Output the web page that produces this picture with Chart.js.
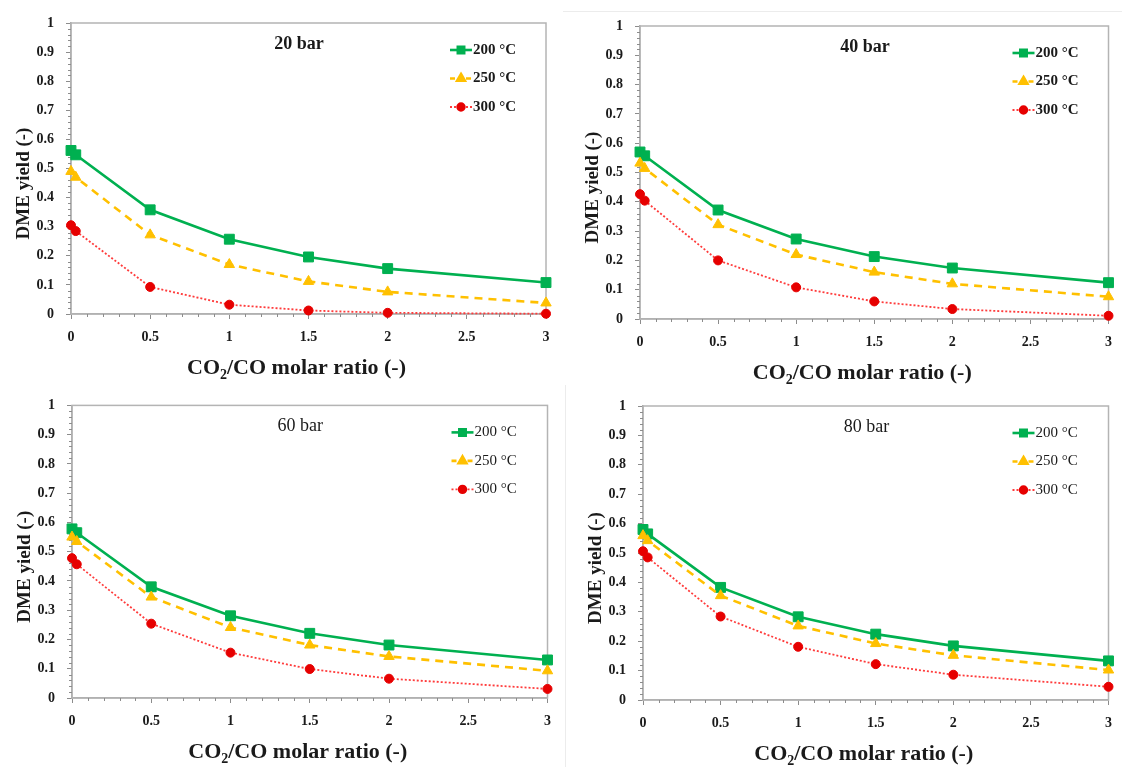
<!DOCTYPE html>
<html>
<head>
<meta charset="utf-8">
<script src="https://cdn.jsdelivr.net/npm/chart.js@4.4.0/dist/chart.umd.min.js"></script>
<style>
  body { margin: 0; background: #fff; }
  #page { position: relative; width: 1122px; height: 767px; overflow: hidden; background: #fff; }
  .panel { position: absolute; }
  .panel canvas { display: block; }
  .sep { position: absolute; background: #ececec; }
</style>
</head>
<body>
<div id="page">
  <div class="sep" style="left:563px;top:11px;width:559px;height:1px"></div>
  <div class="sep" style="left:565px;top:385px;width:1px;height:382px"></div>
  <div class="panel" style="left:0;top:0"><canvas id="c20" width="561" height="385"></canvas></div>
  <div class="panel" style="left:561px;top:0"><canvas id="c40" width="561" height="385"></canvas></div>
  <div class="panel" style="left:0;top:385px"><canvas id="c60" width="561" height="382"></canvas></div>
  <div class="panel" style="left:561px;top:385px"><canvas id="c80" width="561" height="382"></canvas></div>
</div>
<script>
// CO2/CO molar ratios of the feed
const ratio = [0, 0.03, 0.5, 1, 1.5, 2, 3];
const xTicks = [0, 0.5, 1, 1.5, 2, 2.5, 3];
const yTicks = [0, 0.1, 0.2, 0.3, 0.4, 0.5, 0.6, 0.7, 0.8, 0.9, 1];
const tempLabels = ['200 °C', '250 °C', '300 °C'];

// DME yield at 20 bar
const y20_200 = [0.562, 0.547, 0.358, 0.257, 0.196, 0.156, 0.108];
const y20_250 = [0.490, 0.470, 0.272, 0.170, 0.112, 0.076, 0.038];
const y20_300 = [0.305, 0.285, 0.093, 0.032, 0.012, 0.004, 0.001];
// 40 bar
const y40_200 = [0.570, 0.557, 0.372, 0.273, 0.213, 0.174, 0.124];
const y40_250 = [0.532, 0.514, 0.322, 0.220, 0.160, 0.120, 0.076];
const y40_300 = [0.426, 0.404, 0.200, 0.108, 0.060, 0.034, 0.011];
// 60 bar
const y60_200 = [0.578, 0.565, 0.380, 0.281, 0.221, 0.181, 0.130];
const y60_250 = [0.550, 0.535, 0.345, 0.241, 0.181, 0.142, 0.093];
const y60_300 = [0.478, 0.457, 0.254, 0.155, 0.099, 0.066, 0.031];
// 80 bar
const y80_200 = [0.580, 0.565, 0.383, 0.283, 0.224, 0.184, 0.133];
const y80_250 = [0.559, 0.542, 0.355, 0.252, 0.192, 0.152, 0.102];
const y80_300 = [0.506, 0.485, 0.284, 0.181, 0.122, 0.086, 0.045];

const serif = "'Liberation Serif', 'Times New Roman', serif";
const textColor = '#1a1a1a';

const styles = [
  { line: '#00b050', point: '#00b050', dash: [], width: 2.6, shape: 'rect', radius: 7, legendRadius: 4.5 },
  { line: '#ffc000', point: '#ffc000', dash: [8, 6], width: 2.6, shape: 'triangle', radius: 6, legendRadius: 4.5 },
  { line: '#ff3b3b', point: '#e60000', dash: [2, 2], width: 1.8, shape: 'circle', radius: 5, legendRadius: 3.8 }
];

// frame, minor ticks, panel title, legend and axis titles
const panelDecor = {
  id: 'panelDecor',
  beforeDatasetsDraw(chart) {
    const { ctx, chartArea: a, scales: { x, y } } = chart;
    ctx.save();
    ctx.strokeStyle = '#b4b4b4';
    ctx.lineWidth = 1.5;
    ctx.strokeRect(a.left, a.top, a.right - a.left, a.bottom - a.top);
    ctx.strokeStyle = '#8c8c8c';
    ctx.lineWidth = 1;
    ctx.beginPath();
    for (let i = 0; i <= 50; i++) {
      if (i % 5 === 0) continue;
      const py = Math.round(y.getPixelForValue(i * 0.02)) + 0.5;
      ctx.moveTo(a.left - 3, py);
      ctx.lineTo(a.left, py);
    }
    for (let i = 0; i <= 30; i++) {
      if (i % 5 === 0) continue;
      const px = Math.round(x.getPixelForValue(i * 0.1)) + 0.5;
      ctx.moveTo(px, a.bottom);
      ctx.lineTo(px, a.bottom + 3);
    }
    ctx.stroke();
    ctx.restore();
  },
  afterDraw(chart, args, opts) {
    const { ctx, chartArea: a } = chart;
    ctx.save();
    ctx.fillStyle = textColor;
    ctx.textBaseline = 'middle';

    // pressure label
    ctx.textAlign = 'center';
    ctx.font = opts.weight + ' 18px ' + serif;
    ctx.fillText(opts.title, a.left + (a.right - a.left) * 0.48, a.top + 21);

    // legend: line sample, marker, label
    ctx.font = opts.weight + ' 15px ' + serif;
    ctx.textAlign = 'left';
    styles.forEach((s, i) => {
      const ry = a.top + 27 + i * 28.5;
      const x1 = a.right - 96, x2 = a.right - 74;
      ctx.save();
      ctx.strokeStyle = s.line;
      ctx.lineWidth = s.width;
      ctx.setLineDash(s.dash.length ? [5, 3] : []);
      if (s.shape === 'circle') ctx.setLineDash([2, 2]);
      ctx.beginPath();
      ctx.moveTo(x1, ry);
      ctx.lineTo(x2, ry);
      ctx.stroke();
      ctx.setLineDash([]);
      ctx.fillStyle = s.point;
      ctx.strokeStyle = s.point;
      Chart.helpers.drawPoint(ctx, { pointStyle: s.shape, radius: s.legendRadius, rotation: 0, borderWidth: 1 }, (x1 + x2) / 2, ry);
      ctx.restore();
      ctx.fillText(tempLabels[i], a.right - 73, ry);
    });

    // y axis title
    ctx.save();
    ctx.translate(a.left - 47, (a.top + a.bottom) / 2 + 15);
    ctx.rotate(-Math.PI / 2);
    ctx.textAlign = 'center';
    ctx.font = 'bold 19px ' + serif;
    ctx.fillText('DME yield (-)', 0, 0);
    ctx.restore();

    // x axis title with subscript
    const big = 'bold 22px ' + serif, small = 'bold 14px ' + serif;
    ctx.font = big;
    const wA = ctx.measureText('CO').width;
    const wC = ctx.measureText('/CO molar ratio (-)').width;
    ctx.font = small;
    const wB = ctx.measureText('2').width;
    let tx = (a.left + a.right) / 2 - 12 - (wA + wB + wC) / 2;
    const ty = a.bottom + 54;
    ctx.textAlign = 'left';
    ctx.font = big;
    ctx.fillText('CO', tx, ty);
    tx += wA;
    ctx.font = small;
    ctx.fillText('2', tx, ty + 7);
    tx += wB;
    ctx.font = big;
    ctx.fillText('/CO molar ratio (-)', tx, ty);
    ctx.restore();
  }
};

function makePanel(id, title, weight, yields, frame) {
  const canvas = document.getElementById(id);
  const W = canvas.width, H = canvas.height;
  const datasets = yields.map((vals, i) => ({
    label: tempLabels[i],
    data: ratio.map((r, k) => ({ x: r, y: vals[k] })),
    borderColor: styles[i].line,
    borderWidth: styles[i].width,
    borderDash: styles[i].dash,
    backgroundColor: styles[i].point,
    pointBackgroundColor: styles[i].point,
    pointBorderColor: styles[i].point,
    pointBorderWidth: 1,
    pointStyle: styles[i].shape,
    pointRadius: styles[i].radius - (styles[i].shape === 'circle' ? 0.5 : 0),
    tension: 0,
    clip: false,
    order: 3 - i
  }));
  return new Chart(canvas, {
    type: 'line',
    data: { datasets },
    plugins: [panelDecor],
    options: {
      responsive: false,
      animation: false,
      layout: { padding: { left: 0, top: frame.top, right: W - frame.right, bottom: 0 } },
      plugins: {
        legend: { display: false },
        tooltip: { enabled: false },
        panelDecor: { title, weight }
      },
      scales: {
        x: {
          type: 'linear',
          min: 0,
          max: 3,
          afterBuildTicks: s => { s.ticks = xTicks.map(v => ({ value: v })); },
          afterFit: s => { s.height = H - frame.bottom; },
          grid: { drawOnChartArea: false, tickLength: 5, color: '#8c8c8c' },
          border: { color: '#a6a6a6', width: 1.5 },
          ticks: {
            font: { family: serif, size: 14, weight: 'bold' },
            color: textColor,
            padding: 10,
            maxRotation: 0,
            autoSkip: false,
            callback: v => String(v)
          }
        },
        y: {
          type: 'linear',
          min: 0,
          max: 1,
          afterBuildTicks: s => { s.ticks = yTicks.map(v => ({ value: v })); },
          afterFit: s => { s.width = frame.left; },
          grid: { drawOnChartArea: false, tickLength: 5, color: '#8c8c8c' },
          border: { color: '#a6a6a6', width: 1.5 },
          ticks: {
            font: { family: serif, size: 14, weight: 'bold' },
            color: textColor,
            padding: 12,
            autoSkip: false,
            callback: v => String(v)
          }
        }
      }
    }
  });
}

makePanel('c20', '20 bar', 'bold', [y20_200, y20_250, y20_300], { left: 71, top: 23, right: 546, bottom: 314 });
makePanel('c40', '40 bar', 'bold', [y40_200, y40_250, y40_300], { left: 79, top: 26, right: 553, bottom: 319 });
makePanel('c60', '60 bar', 'normal', [y60_200, y60_250, y60_300], { left: 72, top: 20, right: 548, bottom: 313 });
makePanel('c80', '80 bar', 'normal', [y80_200, y80_250, y80_300], { left: 82, top: 21, right: 556, bottom: 315 });
</script>
</body>
</html>
